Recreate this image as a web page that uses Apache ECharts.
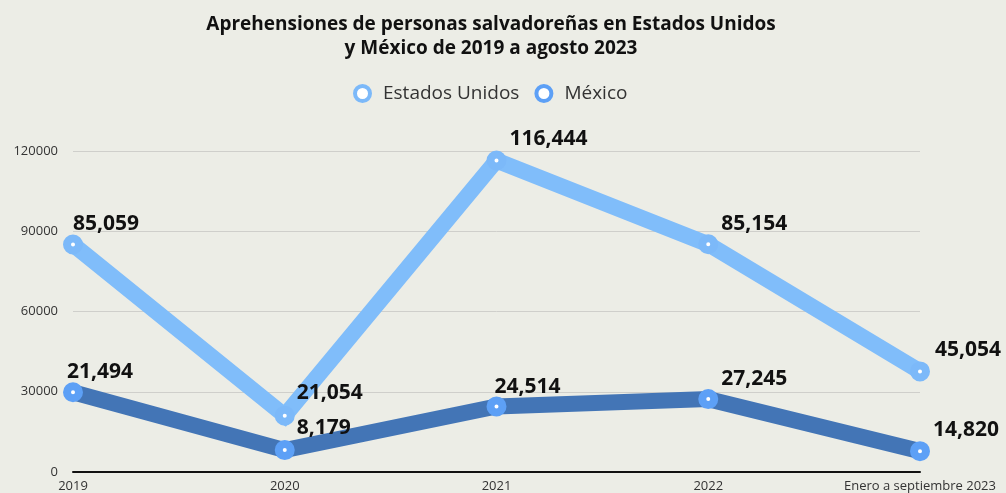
<!DOCTYPE html>
<html>
<head>
<meta charset="utf-8">
<script src="https://cdn.jsdelivr.net/npm/echarts@6/dist/echarts.min.js"></script>
<style>
  html, body { margin: 0; padding: 0; background: #ECEDE6; }
  #chart { width: 1006px; height: 493px; }
</style>
</head>
<body>
<div id="chart"></div>
<script>
// categories on the x axis
const years = ["2019", "2020", "2021", "2022", "Enero a septiembre 2023"];
// plotted positions
const usValues = [85059, 21054, 116444, 85154, 37600];
const mxValues = [29800, 8179, 24514, 27245, 7800];
// printed labels (they do not always match the plotted point)
const usLabels = ["85,059", "21,054", "116,444", "85,154", "45,054"];
const mxLabels = ["21,494", "8,179", "24,514", "27,245", "14,820"];
const yTicks = [0, 30000, 60000, 90000, 120000];

const font = "'Open Sans', sans-serif";
const chart = echarts.init(document.getElementById("chart"));

// label nudges, per point
const usShift = [[0, 5], [12, 3], [13, 4], [13, 5], [15, 4]];
const mxShift = [[-6, 5], [12, 3], [-2, 6], [13, 5], [13, 4]];

function points(values, labels, shift) {
  return values.map((v, i) => ({
    value: v,
    label: { formatter: labels[i], offset: shift[i] }
  }));
}

const labelStyle = {
  show: true,
  position: "top",
  align: "left",
  fontFamily: font,
  fontWeight: "bold",
  fontSize: 21,
  color: "#111"
};

chart.setOption({
  backgroundColor: "#ECEDE6",
  animation: false,
  title: {
    text: "Aprehensiones de personas salvadoreñas en Estados Unidos\ny México de 2019 a agosto 2023",
    left: 486,
    textAlign: "center",
    top: 8,
    textStyle: {
      fontFamily: font,
      fontWeight: "bold",
      fontSize: 19,
      lineHeight: 24,
      color: "#111"
    }
  },
  legend: {
    top: 79,
    left: 348,
    icon: "circle",
    itemWidth: 15,
    itemHeight: 15,
    itemGap: 15,
    itemStyle: { borderWidth: 4 },
    textStyle: { fontFamily: font, fontSize: 19, color: "#333", padding: [0, 0, 0, 8] },
    data: ["Estados Unidos", "México"]
  },
  grid: { left: 73, right: 86, top: 151, bottom: 20 },
  xAxis: {
    type: "category",
    boundaryGap: false,
    data: years,
    axisLine: { lineStyle: { color: "#111", width: 2 } },
    axisTick: { show: false },
    axisLabel: { fontFamily: font, fontSize: 13, color: "#333", margin: 8, interval: 0 }
  },
  yAxis: {
    type: "value",
    min: yTicks[0],
    max: yTicks[yTicks.length - 1],
    interval: 30000,
    axisLine: { show: false },
    axisTick: { show: false },
    axisLabel: {
      fontFamily: font, fontSize: 13, color: "#333", margin: 15,
      formatter: (v) => String(v)
    },
    splitLine: { lineStyle: { color: "#cfcfcb", width: 1 } }
  },
  series: [
    {
      name: "Estados Unidos",
      type: "line",
      data: points(usValues, usLabels, usShift),
      symbol: "circle",
      symbolSize: 12,
      lineStyle: { color: "#80BDFA", width: 16, join: "miter" },
      itemStyle: { color: "#fff", borderColor: "#7CB9F9", borderWidth: 8 },
      label: labelStyle,
      z: 2
    },
    {
      name: "México",
      type: "line",
      data: points(mxValues, mxLabels, mxShift),
      symbol: "circle",
      symbolSize: 12,
      lineStyle: { color: "#4375B6", width: 16, join: "miter" },
      itemStyle: { color: "#fff", borderColor: "#5DA0F6", borderWidth: 8 },
      label: labelStyle,
      z: 3
    }
  ]
});
</script>
</body>
</html>
